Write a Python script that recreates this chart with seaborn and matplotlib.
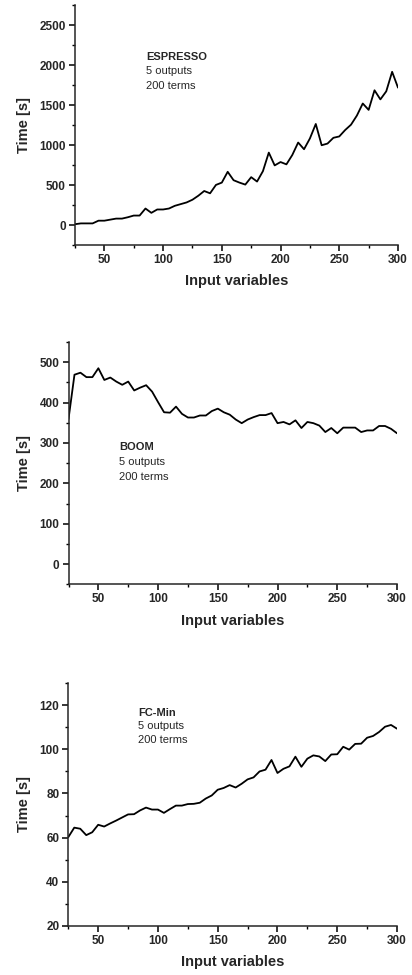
import numpy as np
import pandas as pd
import matplotlib
matplotlib.use("Agg")
import matplotlib.pyplot as plt
from matplotlib.ticker import MultipleLocator
import seaborn as sns

# ---- data ----
input_vars = list(range(25, 301, 5))

espresso_time = [10, 20, 20, 20, 54, 54, 67, 80, 80, 97, 118, 118, 206, 152, 194, 194,
                 206, 240, 261, 282, 316, 366, 425, 396, 501, 530, 665, 560, 530, 505,
                 598, 543, 673, 905, 745, 787, 758, 875, 1031, 947, 1082, 1263, 997,
                 1018, 1090, 1107, 1187, 1254, 1368, 1519, 1439, 1684, 1570, 1671,
                 1915, 1717]

boom_time = [359, 469, 474, 463, 463, 485, 456, 462, 452, 444, 452, 430, 437, 443, 427,
             401, 376, 375, 390, 372, 363, 363, 368, 368, 379, 385, 376, 370, 358, 349,
             358, 364, 369, 369, 374, 349, 352, 346, 356, 337, 352, 349, 343, 327, 337,
             324, 338, 338, 338, 327, 331, 331, 342, 342, 335, 324]

fcmin_time = [60.2, 64.5, 64.0, 61.1, 62.4, 65.8, 65.0, 66.4, 67.7, 69.1, 70.5, 70.6,
              72.3, 73.6, 72.7, 72.7, 71.2, 72.9, 74.5, 74.5, 75.2, 75.3, 75.8, 77.7,
              79.1, 81.7, 82.5, 83.8, 82.7, 84.4, 86.4, 87.3, 90.0, 90.8, 95.2, 89.3,
              91.2, 92.3, 96.7, 92.1, 95.8, 97.3, 96.8, 94.7, 97.7, 97.8, 101.2, 99.9,
              102.5, 102.6, 105.3, 106.1, 107.9, 110.3, 111.1, 109.4]

method_names = ["ESPRESSO", "BOOM", "FC-Min"]
info_lines = ["5 outputs", "200 terms"]
x_label = "Input variables"
y_label = "Time [s]"
x_ticks = [50, 100, 150, 200, 250, 300]

# ---- style ----
sns.set_style("ticks")
plt.rcParams['font.family'] = ['Liberation Sans', 'DejaVu Sans']
plt.rcParams['axes.linewidth'] = 1.1

W, H = 412, 975
fig = plt.figure(figsize=(W / 100, H / 100), dpi=100)

def px_axes(l, t, r, b):
    return fig.add_axes([l / W, 1 - b / H, (r - l) / W, (b - t) / H])

panels = [
    dict(name=method_names[0], y=espresso_time, rect=(75, 5, 398, 245),
         ylim=(-250, 2750), major=500, minor=250, text=(0.22, 0.783, 0.06),
         ylab_x=-0.136),
    dict(name=method_names[1], y=boom_time, rect=(68.5, 342, 397, 584.3),
         ylim=(-50, 550), major=100, minor=50, text=(0.154, 0.565, 0.061),
         ylab_x=-0.114),
    dict(name=method_names[2], y=fcmin_time, rect=(68.3, 683.3, 397, 925.7),
         ylim=(20, 130), major=20, minor=10, text=(0.213, 0.879, 0.057),
         ylab_x=-0.114),
]

for p in panels:
    ax = px_axes(*p["rect"])
    df = pd.DataFrame({"x": input_vars, "y": p["y"]})
    sns.lineplot(data=df, x="x", y="y", ax=ax, color="black", linewidth=1.3)
    ax.set_xticks(x_ticks)
    ax.xaxis.set_minor_locator(MultipleLocator(25))
    ax.yaxis.set_major_locator(MultipleLocator(p["major"]))
    ax.yaxis.set_minor_locator(MultipleLocator(p["minor"]))
    ax.set_ylim(*p["ylim"])
    ax.set_xlim(25, 300)
    sns.despine(ax=ax)
    ax.tick_params(which="major", direction="out", length=4, width=1.1,
                   labelsize=8.5, pad=2.5, color="black")
    ax.tick_params(which="minor", direction="out", length=2.5, width=1.0,
                   color="black")
    for lab in ax.get_xticklabels() + ax.get_yticklabels():
        lab.set_fontweight("bold")
    ax.set_xlabel(x_label, fontsize=10.5, fontweight="bold")
    ax.set_ylabel(y_label, fontsize=10.5, fontweight="bold")
    ax.yaxis.set_label_coords(p["ylab_x"], 0.5)
    ax.xaxis.set_label_coords(0.5, -0.122)
    tx, ty, dy = p["text"]
    ax.text(tx, ty, p["name"], transform=ax.transAxes, fontsize=8,
            fontweight="bold", va="center", ha="left")
    for i, line in enumerate(info_lines):
        ax.text(tx, ty - dy * (i + 1), line, transform=ax.transAxes,
                fontsize=8, va="center", ha="left")

fig.savefig("out.png", dpi=100)
